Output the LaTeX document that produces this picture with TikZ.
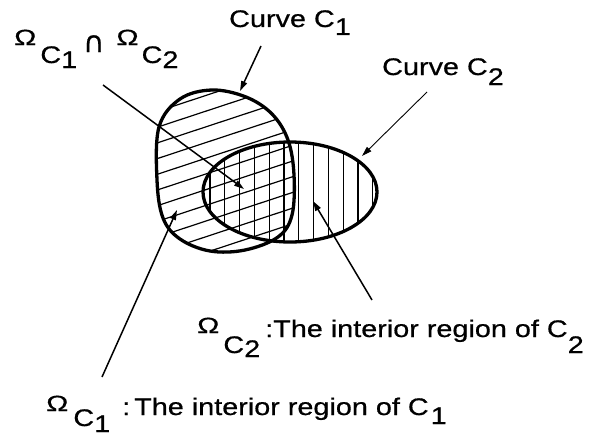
\documentclass[tikz,border=0pt]{standalone}
\usepackage{fontspec}
\setmainfont{Liberation Sans}[FakeStretch=1.2, FakeBold=0.6]
\newfontfamily\omfont{Liberation Sans}[FakeStretch=1.35, FakeBold=0.6]
\newfontfamily\capfont{DejaVu Sans}[FakeBold=0.6]
\usetikzlibrary{arrows.meta}
\newcommand{\Om}{{\omfont\fontsize{22}{22}\selectfont\raisebox{4pt}{Ω}}}
\newcommand{\Lw}[2]{\raisebox{-#1pt}{#2}}
\tikzset{
  lbl/.style={inner sep=0pt, anchor=base west, font=\fontsize{24}{24}\selectfont},
  bound/.style={line width=3.3pt, line join=round},
  hatch/.style={line width=1.2pt},
  pointer/.style={line width=1.5pt, -{Triangle[length=10pt,width=6pt]}},
  thinpointer/.style={line width=0.9pt, -{Triangle[length=10pt,width=6pt]}}
}
\def\CurveOne{plot[smooth cycle, tension=0.6] coordinates {(159,127) (180,99) (212,90) (246,97) (272,114) (288,140) (294,175) (292,215) (278,237) (245,250) (210,251) (180,239) (163,218) (157,180)}}
\def\CurveTwo{(290,192) ellipse [x radius=87, y radius=50]}
\begin{document}
\begin{tikzpicture}[x=1pt, y=-1pt]
\useasboundingbox (0,0) rectangle (601,436);
% hatching of C1
\begin{scope}
  \clip \CurveOne;
  \foreach \k in {0,...,15} \draw[hatch] (140,85.8+\k*15.7) -- +(180,-59.4);
\end{scope}
% hatching of C2
\begin{scope}
  \clip \CurveTwo;
  \foreach \k in {0,...,11} \draw[hatch] (210+\k*14.8,130) -- +(0,125);
\end{scope}
% boundaries
\draw[bound] \CurveOne;
\draw[bound] \CurveTwo;
% labels
\node[lbl] (lblint) at (14,49) {\Om\hspace{4pt}\Lw{14}{C\Lw{5}{1}}\hspace{6pt}{\capfont\fontsize{29}{29}\selectfont\Lw{3}{∩}}\hspace{12pt}\Om\hspace{3pt}\Lw{14}{C\Lw{5}{2}}};
\node[lbl] (lblcone) at (229,27) {Curve C\Lw{8}{1}};
\node[lbl] (lblctwo) at (382,75) {Curve C\Lw{10}{2}};
\node[lbl] (lblomtwo) at (197,337) {\Om\hspace{4pt}\Lw{16}{C\Lw{4}{2}}\hspace{5pt}:The interior region of C\Lw{16}{2}};
\node[lbl] (lblomone) at (46,415) {\Om\hspace{5pt}\Lw{11}{C\Lw{6}{1}}\hspace{12pt}:\hspace{4pt}The interior region of C\hspace{2pt}\Lw{9}{1}};
% connector end points
\coordinate (aints) at (103,85);
\coordinate (ainte) at (244,189);
\coordinate (acones) at (261,46);
\coordinate (acone) at (240,91);
\coordinate (actwos) at (427,92);
\coordinate (actwoe) at (362,156);
\coordinate (aomones) at (102,377);
\coordinate (aomonee) at (177,210);
\coordinate (aomtwos) at (372,300);
\coordinate (aomtwoe) at (313,201);
% connectors
\draw[pointer] (aints) -- (ainte);
\draw[pointer] (acones) -- (acone);
\draw[thinpointer] (actwos) -- (actwoe);
\draw[pointer] (aomones) -- (aomonee);
\draw[pointer] (aomtwos) -- (aomtwoe);
\end{tikzpicture}
\end{document}
